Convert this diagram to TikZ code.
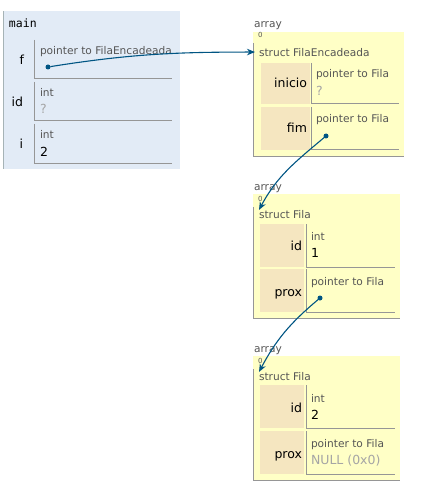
\documentclass[tikz,border=0pt]{standalone}
\usepackage{xcolor}
\usepackage{fontspec}
\setmainfont{DejaVu Sans}
\setmonofont{DejaVu Sans Mono}
\usepackage{tikz}
\usetikzlibrary{arrows.meta, positioning}
\definecolor{framebg}{RGB}{226, 235, 246}
\definecolor{framebar}{RGB}{166, 179, 182}
\definecolor{heapbg}{RGB}{255, 255, 198}
\definecolor{keybg}{RGB}{245, 230, 192}
\definecolor{cellline}{RGB}{150, 150, 150}
\definecolor{typegray}{RGB}{85, 85, 85}
\definecolor{nullgray}{RGB}{165, 165, 165}
\definecolor{ptrblue}{RGB}{0, 85, 131}

\begin{document}
\begin{tikzpicture}[x=1pt, y=-1pt,
    every node/.style={inner sep=0pt, outer sep=0pt},
    cellsize/.style 2 args={anchor=north west, minimum width=#1pt, minimum height=#2pt},
    framebox/.style={fill=framebg},
    heapbox/.style={fill=heapbg},
    keycell/.style={fill=keybg},
    border/.style={draw=cellline, line width=1pt},
    typelbl/.style={anchor=base west, text=typegray, font=\fontsize{10.6}{12}\selectfont},
    idxlbl/.style={anchor=base west, text=typegray, font=\fontsize{7}{8}\selectfont},
    vallbl/.style={anchor=base west, font=\fontsize{12.5}{14}\selectfont},
    namelbl/.style={anchor=base east, font=\fontsize{12.5}{14}\selectfont},
    ptrdot/.style={circle, fill=ptrblue, minimum size=5pt},
    ptr/.style={-{Stealth[length=8pt, width=6.5pt, inset=2.5pt]}, draw=ptrblue, line width=1.1pt},
]
\useasboundingbox (0,0) rectangle (427,497);

%% Frame main (pila)
\node[cellsize={177}{158}, framebox] at (3,11) (frame) {};
\draw[draw=framebar, line width=1pt] (frame.north west) -- (frame.south west);
\node[anchor=base west, font=\ttfamily\fontsize{11.5}{13}\selectfont] at (9,28) (mainlbl) {main};

\node[cellsize={138}{39}] at (34,40)  (fval)  {};
\node[cellsize={138}{39}] at (34,82)  (idval) {};
\node[cellsize={138}{39}] at (34,124) (ival)  {};
\foreach \c in {fval, idval, ival}
    \draw[border] (\c.north west) |- (\c.south east);

\node[namelbl] at (24,65)  (fname)  {f};
\node[namelbl] at (23,107) (idname) {id};
\node[namelbl] at (23,149) (iname)  {i};

\node[typelbl] at (40,55)  (ftype)  {pointer to FilaEncadeada};
\node[ptrdot]  at (48,67)  (fptr)   {};
\node[typelbl] at (40,97)  (idtype) {int};
\node[vallbl, text=nullgray] at (40,114) (idv) {?};
\node[typelbl] at (40,139) (itype)  {int};
\node[vallbl]  at (40,157) (iv)     {2};

%% struct FilaEncadeada
\node[typelbl] at (254,28) (arr0) {array};
\node[cellsize={151}{124}, heapbox] at (253,32) (enc) {};
\draw[border] ([yshift=-11pt]enc.north west) |- (enc.south east);
\node[idxlbl]  at (258,38) (encidx)   {0};
\node[typelbl] at (259,57) (enctitle) {struct FilaEncadeada};

\node[cellsize={49}{41}, keycell] at (261,63)  (inikey) {};
\node[cellsize={88}{41}]          at (311,63)  (inival) {};
\node[cellsize={49}{43}, keycell] at (261,107) (fimkey) {};
\node[cellsize={88}{43}]          at (311,107) (fimval) {};
\foreach \c in {inival, fimval}
    \draw[border] (\c.north west) |- (\c.south east);

\node[namelbl] at (307,88)  (ininame) {inicio};
\node[typelbl] at (316,78)  (initype) {pointer to Fila};
\node[vallbl, text=nullgray] at (316,96) (iniv) {?};
\node[namelbl] at (307,133) (fimname) {fim};
\node[typelbl] at (316,123) (fimtype) {pointer to Fila};
\node[ptrdot]  at (326,136) (fimptr)  {};

%% struct Fila (id 1)
\node[typelbl] at (254,190) (arr1) {array};
\node[cellsize={147}{124}, heapbox] at (253,194) (fila1) {};
\draw[border] ([yshift=-13pt]fila1.north west) |- (fila1.south east);
\node[idxlbl]  at (258,201) (fila1idx)   {0};
\node[typelbl] at (259,218) (fila1title) {struct Fila};

\node[cellsize={44}{43}, keycell] at (260,224) (idkey1)   {};
\node[cellsize={89}{43}]          at (306,224) (idval1)   {};
\node[cellsize={44}{43}, keycell] at (260,269) (proxkey1) {};
\node[cellsize={89}{43}]          at (306,269) (proxval1) {};
\foreach \c in {idval1, proxval1}
    \draw[border] (\c.north west) |- (\c.south east);

\node[namelbl] at (302,250) (idname1)   {id};
\node[typelbl] at (311,240) (idtype1)   {int};
\node[vallbl]  at (311,257) (idv1)      {1};
\node[namelbl] at (302,296) (proxname1) {prox};
\node[typelbl] at (311,285) (proxtype1) {pointer to Fila};
\node[ptrdot]  at (320,298) (proxptr1)  {};

%% struct Fila (id 2)
\node[typelbl] at (254,352) (arr2) {array};
\node[cellsize={147}{124}, heapbox] at (253,356) (fila2) {};
\draw[border] ([yshift=-13pt]fila2.north west) |- (fila2.south east);
\node[idxlbl]  at (258,363) (fila2idx)   {0};
\node[typelbl] at (259,380) (fila2title) {struct Fila};

\node[cellsize={44}{43}, keycell] at (260,385) (idkey2)   {};
\node[cellsize={89}{43}]          at (306,385) (idval2)   {};
\node[cellsize={44}{43}, keycell] at (260,431) (proxkey2) {};
\node[cellsize={89}{43}]          at (306,431) (proxval2) {};
\foreach \c in {idval2, proxval2}
    \draw[border] (\c.north west) |- (\c.south east);

\node[namelbl] at (302,412) (idname2)   {id};
\node[typelbl] at (311,402) (idtype2)   {int};
\node[vallbl]  at (311,419) (idv2)      {2};
\node[namelbl] at (302,458) (proxname2) {prox};
\node[typelbl] at (311,447) (proxtype2) {pointer to Fila};
\node[vallbl, text=nullgray] at (311,464) (proxv2) {NULL (0x0)};

%% Ponteiros
\draw[ptr] (fptr) to[out=9, in=180] ([xshift=-4pt, yshift=1pt]enctitle.west);
\draw[ptr] (fimptr) to[out=220, in=62] (fila1title.north west);
\draw[ptr] (proxptr1) to[out=220, in=62] (fila2title.north west);

\end{tikzpicture}
\end{document}
